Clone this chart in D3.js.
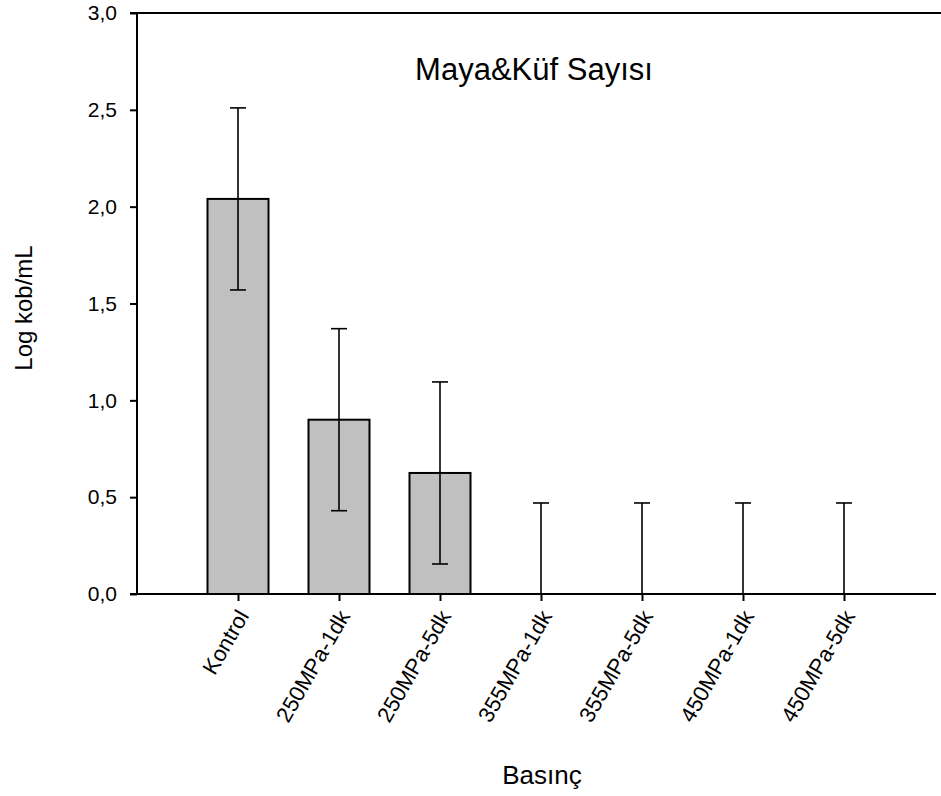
<!DOCTYPE html>
<html>
<head>
    <meta charset="utf-8">
    <title>Maya&amp;Küf Sayısı</title>
    <style>
        html, body {
            margin: 0;
            padding: 0;
            background-color: white;
        }
        svg {
            display: block;
            font-family: "Liberation Sans", Arial, sans-serif;
        }
    </style>
</head>
<body>
<script src="https://cdn.jsdelivr.net/npm/d3@7"></script>
<script>
    // Données
    var categories = ["Kontrol", "250MPa-1dk", "250MPa-5dk", "355MPa-1dk", "355MPa-5dk", "450MPa-1dk", "450MPa-5dk"];
    var moyennes = [2.04, 0.90, 0.625, 0, 0, 0, 0];
    var ecarts = [0.47, 0.47, 0.47, 0.47, 0.47, 0.47, 0.47];
    var yTicks = [0, 0.5, 1.0, 1.5, 2.0, 2.5, 3.0];

    var width = 941;
    var height = 796;
    // attention : "top" est réservé par window, d'où les noms en plot*
    var plotLeft = 137, plotTop = 13, plotBottom = 594, plotRight = 936;

    var svg = d3.select("body")
        .append("svg")
        .attr("width", width)
        .attr("height", height);

    // échelles
    var x = d3.scalePoint()
        .domain(categories)
        .range([plotLeft, plotLeft + 808])
        .padding(1);

    var y = d3.scaleLinear()
        .domain([0, 3])
        .range([plotBottom, plotTop]);

    var barWidth = 61;
    var capWidth = 16;

    var data = categories.map(function(c, i) {
        return {cat: c, m: moyennes[i], sd: ecarts[i]};
    });

    // barres
    svg.selectAll("rect.bar")
        .data(data.filter(function(d) { return d.m > 0; }))
        .enter()
        .append("rect")
        .attr("class", "bar")
        .attr("x", function(d) { return x(d.cat) - barWidth / 2; })
        .attr("y", function(d) { return y(d.m); })
        .attr("width", barWidth)
        .attr("height", function(d) { return y(0) - y(d.m); })
        .attr("fill", "#c0c0c0")
        .attr("stroke", "black")
        .attr("stroke-width", 2);

    // barres d'erreur
    var err = svg.selectAll("g.err")
        .data(data)
        .enter()
        .append("g")
        .attr("class", "err")
        .attr("stroke", "black")
        .attr("stroke-width", 1.6);

    err.append("line")
        .attr("x1", function(d) { return x(d.cat); })
        .attr("x2", function(d) { return x(d.cat); })
        .attr("y1", function(d) { return y(Math.max(0, d.m - d.sd)); })
        .attr("y2", function(d) { return y(d.m + d.sd); });

    err.append("line")
        .attr("x1", function(d) { return x(d.cat) - capWidth / 2; })
        .attr("x2", function(d) { return x(d.cat) + capWidth / 2; })
        .attr("y1", function(d) { return y(d.m + d.sd); })
        .attr("y2", function(d) { return y(d.m + d.sd); });

    err.filter(function(d) { return d.m - d.sd > 0; })
        .append("line")
        .attr("x1", function(d) { return x(d.cat) - capWidth / 2; })
        .attr("x2", function(d) { return x(d.cat) + capWidth / 2; })
        .attr("y1", function(d) { return y(d.m - d.sd); })
        .attr("y2", function(d) { return y(d.m - d.sd); });

    // axe Y
    var yAxis = d3.axisLeft(y)
        .tickValues(yTicks)
        .tickSize(7)
        .tickPadding(13)
        .tickFormat(function(d) { return d3.format(".1f")(d).replace(".", ","); });

    var gy = svg.append("g")
        .attr("transform", "translate(" + plotLeft + ",0)")
        .call(yAxis);
    gy.select(".domain").remove();
    gy.selectAll("line").attr("stroke-width", 2);
    gy.selectAll("text")
        .attr("font-size", 21)
        .attr("fill", "black")
        .attr("font-family", "Liberation Sans, Arial, sans-serif");

    // axe X
    var xAxis = d3.axisBottom(x).tickSize(7).tickFormat("");
    var gx = svg.append("g")
        .attr("transform", "translate(0," + plotBottom + ")")
        .call(xAxis);
    gx.select(".domain").remove();
    gx.selectAll("line").attr("stroke-width", 2);

    svg.selectAll("text.xlab")
        .data(categories)
        .enter()
        .append("text")
        .attr("class", "xlab")
        .attr("transform", function(d) { return "translate(" + (x(d) + 5) + "," + (plotBottom + 18) + ") rotate(-60)"; })
        .attr("text-anchor", "end")
        .attr("dy", "0.35em")
        .attr("font-size", 22)
        .text(function(d) { return d; });

    // cadre : gauche, bas, haut
    svg.append("line")
        .attr("x1", plotLeft).attr("x2", plotLeft)
        .attr("y1", plotTop).attr("y2", plotBottom)
        .attr("stroke", "black").attr("stroke-width", 2);
    svg.append("line")
        .attr("x1", plotLeft - 7).attr("x2", plotRight)
        .attr("y1", plotBottom).attr("y2", plotBottom)
        .attr("stroke", "black").attr("stroke-width", 2);
    svg.append("line")
        .attr("x1", plotLeft - 7).attr("x2", width)
        .attr("y1", plotTop).attr("y2", plotTop)
        .attr("stroke", "black").attr("stroke-width", 2);

    // titres
    svg.append("text")
        .attr("x", 534)
        .attr("y", 80)
        .attr("text-anchor", "middle")
        .attr("font-size", 31)
        .text("Maya&Küf Sayısı");

    svg.append("text")
        .attr("transform", "translate(32,308) rotate(-90)")
        .attr("text-anchor", "middle")
        .attr("font-size", 24)
        .text("Log kob/mL");

    svg.append("text")
        .attr("x", 542)
        .attr("y", 784)
        .attr("text-anchor", "middle")
        .attr("font-size", 26)
        .text("Basınç");
</script>
</body>
</html>
